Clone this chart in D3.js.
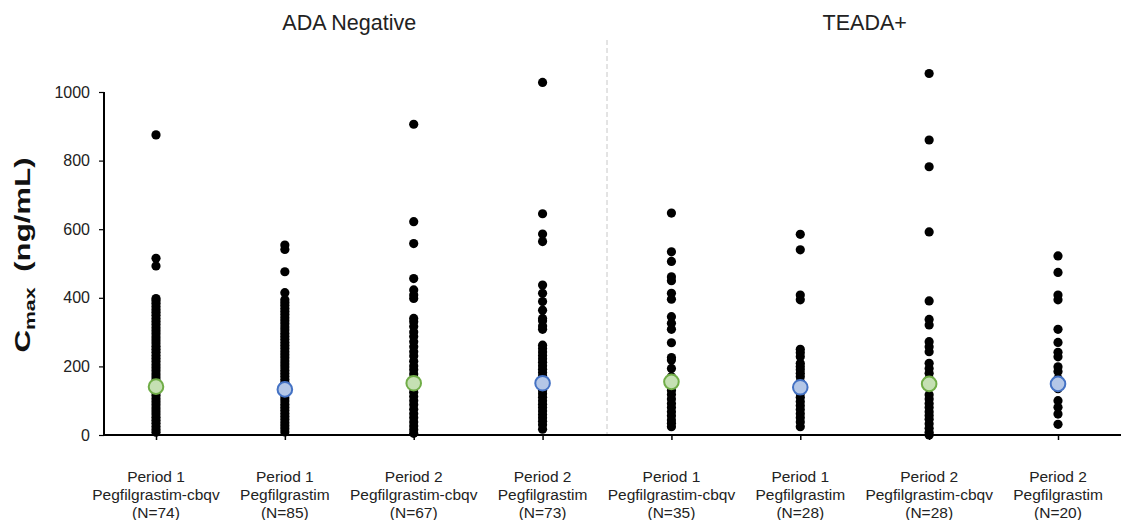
<!DOCTYPE html>
<html>
<head>
<meta charset="utf-8">
<script src="https://cdn.jsdelivr.net/npm/d3@7"></script>
<style>
  body { margin: 0; background: #fff; }
  svg { display: block; font-family: "Liberation Sans", Arial, sans-serif; }
</style>
</head>
<body>
<svg id="chart" width="1123" height="520"></svg>
<script>
// ---- Data ----
const categories = ["c1", "c2", "c3", "c4", "c5", "c6", "c7", "c8"];
const periodLabels = ["Period 1", "Period 1", "Period 2", "Period 2", "Period 1", "Period 1", "Period 2", "Period 2"];
const productLabels = ["Pegfilgrastim-cbqv", "Pegfilgrastim", "Pegfilgrastim-cbqv", "Pegfilgrastim",
                       "Pegfilgrastim-cbqv", "Pegfilgrastim", "Pegfilgrastim-cbqv", "Pegfilgrastim"];
const nLabels = ["(N=74)", "(N=85)", "(N=67)", "(N=73)", "(N=35)", "(N=28)", "(N=28)", "(N=20)"];
const groupTitles = ["ADA Negative", "TEADA+"];
const yTicks = [0, 200, 400, 600, 800, 1000];

const col1 = [875, 515, 493, 398, 392, 384, 375, 366, 358, 349, 340, 331, 322, 313, 304, 295, 286, 277, 268, 259, 250, 241, 232, 223, 214, 205, 196, 187, 178, 169, 160, 151, 142, 133, 124, 115, 106, 97, 88, 79, 70, 61, 52, 43, 34, 25, 16, 8];
const col2 = [554, 541, 476, 415, 394, 386, 378, 369, 360, 351, 342, 333, 324, 315, 306, 297, 288, 279, 270, 261, 252, 243, 234, 225, 216, 207, 198, 189, 180, 171, 162, 153, 144, 135, 126, 117, 108, 99, 90, 81, 72, 63, 54, 45, 36, 27, 18, 9];
const col3 = [906, 622, 558, 456, 423, 408, 398, 340, 330, 316, 300, 287, 272, 257, 243, 230, 215, 201, 190, 178, 165, 150, 138, 125, 112, 100, 88, 75, 62, 50, 38, 26, 15, 5];
const col4 = [1028, 645, 586, 564, 437, 413, 389, 364, 340, 333, 318, 308, 262, 252, 242, 232, 222, 212, 202, 192, 182, 172, 162, 150, 140, 130, 120, 110, 100, 90, 80, 70, 60, 50, 40, 30, 17];
const col5 = [647, 534, 506, 461, 450, 413, 396, 345, 326, 308, 269, 226, 219, 194, 170, 160, 145, 130, 118, 105, 92, 80, 68, 56, 44, 34, 24];
const col6 = [585, 540, 408, 394, 250, 240, 228, 209, 200, 190, 180, 170, 155, 145, 122, 110, 98, 86, 74, 62, 50, 38, 24];
const col7 = [1054, 860, 782, 592, 391, 337, 321, 272, 257, 243, 209, 194, 180, 165, 140, 117, 105, 92, 80, 68, 57, 46, 33, 20, 8, 0];
const col8 = [522, 474, 408, 394, 308, 270, 241, 228, 199, 185, 165, 155, 145, 135, 100, 81, 61, 31];
const seriesValues = [col1, col2, col3, col4, col5, col6, col7, col8];
const meanValues = [141, 133, 151, 151, 155, 139, 149, 149];
const meanKind = ["biosim", "ref", "biosim", "ref", "biosim", "ref", "biosim", "ref"];

// ---- Chart ----
const svg = d3.select("#chart");
const axisX = 104, axisY0 = 435;
const x = d3.scalePoint().domain(categories).range([156, 1058]);
const y = d3.scaleLinear().domain([0, 1000]).range([435, 92]);
const textColor = "#222";
const FONT = "'Liberation Sans', Arial, sans-serif";

// divider
const divX = (x("c4") + x("c5")) / 2;
svg.append("line")
  .attr("x1", divX).attr("x2", divX).attr("y1", 40).attr("y2", axisY0)
  .attr("stroke", "#c8c8c8").attr("stroke-width", 1).attr("stroke-dasharray", "5,3");

// group titles
svg.append("text").attr("x", (x("c1") + x("c4")) / 2).attr("y", 30)
  .attr("text-anchor", "middle").attr("font-size", 21.5).attr("fill", textColor).text(groupTitles[0]);
svg.append("text").attr("x", (x("c5") + x("c8")) / 2).attr("y", 30)
  .attr("text-anchor", "middle").attr("font-size", 21.5).attr("fill", textColor).text(groupTitles[1]);

// y axis
const yAxis = d3.axisLeft(y).tickValues(yTicks).tickSize(5).tickPadding(9).tickFormat(d3.format("d"));
const gy = svg.append("g").attr("transform", `translate(${axisX},0)`).call(yAxis);
gy.attr("font-size", 16).attr("font-family", FONT);
gy.select(".domain").attr("stroke", "#000").attr("stroke-width", 2).attr("d", `M0,${y(1000)}V${axisY0}`);
gy.selectAll(".tick line").attr("stroke", "#000").attr("stroke-width", 1.2);
gy.selectAll(".tick text").attr("font-size", 16).attr("fill", textColor);

// x axis
const xAxis = d3.axisBottom(x).tickSize(5).tickFormat("");
const gx = svg.append("g").attr("transform", `translate(0,${axisY0})`).call(xAxis);
gx.select(".domain").attr("stroke", "#000").attr("stroke-width", 2).attr("d", `M${axisX},0H1121`);
gx.selectAll(".tick line").attr("stroke", "#000").attr("stroke-width", 1.5);

// x labels
const lbl = svg.append("g").attr("font-size", 15.5).attr("fill", textColor).attr("text-anchor", "middle");
categories.forEach((c, i) => {
  const t = lbl.append("text").attr("x", x(c));
  t.append("tspan").attr("x", x(c)).attr("y", 481.5).text(periodLabels[i]);
  t.append("tspan").attr("x", x(c)).attr("y", 500).text(productLabels[i]);
  t.append("tspan").attr("x", x(c)).attr("y", 518).text(nLabels[i]);
});

// y title (horizontally stretched, as in the reference)
const yt = svg.append("text")
  .attr("transform", `translate(30,255) rotate(-90) scale(1.42,1)`)
  .attr("text-anchor", "middle").attr("font-size", 22).attr("font-weight", "bold").attr("fill", "#111");
yt.append("tspan").text("C");
yt.append("tspan").attr("font-size", 15).attr("dy", 5).text("max");
yt.append("tspan").attr("dy", -5).text("\u2002(ng/mL)");

// points
categories.forEach((c, i) => {
  svg.append("g").selectAll("circle").data(seriesValues[i]).join("circle")
    .attr("cx", x(c)).attr("cy", d => y(d)).attr("r", 4.6).attr("fill", "#000");
});

// means
svg.append("g").selectAll("circle").data(meanValues).join("circle")
  .attr("cx", (d, i) => x(categories[i])).attr("cy", d => y(d)).attr("r", 7.3)
  .attr("fill", (d, i) => meanKind[i] === "biosim" ? "#c5e0b3" : "#b4c7e7")
  .attr("stroke", (d, i) => meanKind[i] === "biosim" ? "#70ad47" : "#4472c4")
  .attr("stroke-width", 2);
</script>
</body>
</html>
